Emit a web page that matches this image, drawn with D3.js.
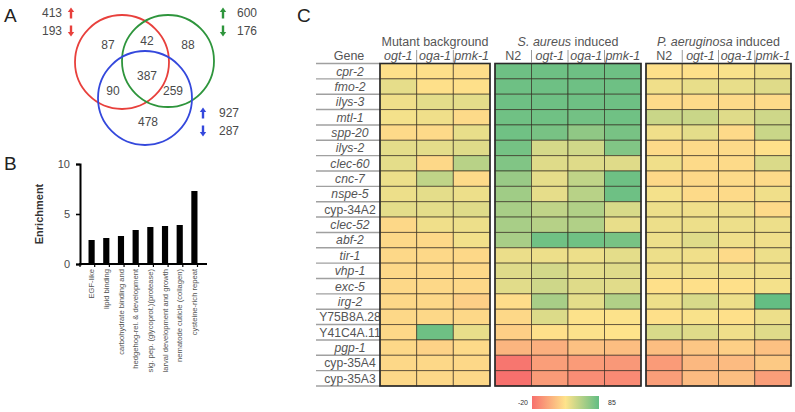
<!DOCTYPE html>
<html><head><meta charset="utf-8">
<script src="https://cdn.jsdelivr.net/npm/d3@7"></script>
<style>
body{margin:0;background:#fff;}
svg{display:block;font-family:"Liberation Sans",Arial,sans-serif;}
</style></head><body>
<svg id="c" width="795" height="412"></svg>
<script>
// ---------- DATA ----------
const vennSets = ["red", "green", "blue"];
const vennUp = [413, 600, 927];
const vennDown = [193, 176, 287];
const vennCounts = [87, 42, 88, 90, 387, 259, 478]; // R, RG, G, RB, RGB, GB, B

const enrichCategories = ["EGF-like", "lipid binding", "carbohydrate binding and",
  "hedgehog-rel. & development", "sig. pep. (glycoprot.)(protease)",
  "larval development and growth", "nematode cuticle (collagen)", "cysteine-rich repeat"];
const enrichValues = [2.4, 2.6, 2.8, 3.4, 3.7, 3.8, 3.9, 7.3];
const enrichTicks = [0, 5, 10];

const genes = ["cpr-2","fmo-2","ilys-3","mtl-1","spp-20","ilys-2","clec-60","cnc-7","nspe-5",
  "cyp-34A2","clec-52","abf-2","tir-1","vhp-1","exc-5","irg-2","Y75B8A.28","Y41C4A.11",
  "pgp-1","cyp-35A4","cyp-35A3"];
const nonItalicGenes = ["cyp-34A2","Y75B8A.28","Y41C4A.11","cyp-35A4","cyp-35A3"];
const mutantCols = ["ogt-1","oga-1","pmk-1"];
const strainCols = ["N2","ogt-1","oga-1","pmk-1"];
const mutantValues = [
  [19,19,18],[30,19,19],[26,31,31],[24,26,17],[17,17,29],[31,31,33],[31,16,49],
  [27,46,17],[27,31,27],[31,31,33],[16,26,27],[16,16,25],[16,16,16],[16,16,16],
  [16,16,16],[16,16,13],[16,16,16],[16,80,29],[16,14,17],[16,16,16],[16,16,16]];
const aureusValues = [
  [80,80,80,80],[80,80,80,80],[80,80,80,80],[79,79,78,79],[79,76,66,76],[77,37,39,72],
  [72,33,33,33],[62,30,46,80],[59,30,49,80],[56,46,52,36],[56,50,52,29],[56,79,79,76],
  [28,27,27,31],[33,38,31,33],[32,40,33,32],[18,56,31,52],[16,34,21,21],[13,19,21,20],
  [4,2,8,7],[-18,-4,-5,-6],[-20,-5,-10,-11]];
const aeruginosaValues = [
  [19,19,22,26],[26,29,29,33],[17,17,17,17],[42,42,33,40],[26,31,17,42],[17,17,17,19],
  [26,17,17,35],[16,16,17,17],[24,17,17,26],[27,26,26,17],[27,27,27,27],[27,33,26,26],
  [27,26,17,27],[26,26,26,26],[19,19,19,24],[27,36,27,84],[19,22,19,27],[36,33,26,33],
  [7,10,13,8],[-5,5,6,11],[-4,6,7,-4]];
const colorDomain = [-20, 20, 85];
const legendTicks = [-20, 85];

// ---------- SETUP ----------
const svg = d3.select("#c");
const txt = "#4a4a4a";

// ---------- PANEL A : Venn ----------
const vennLayout = {
  red:   {cx:122, cy:62, r:47, color:"#e8403c", up:[71,13], lab:[42,13]},
  green: {cx:168, cy:61, r:46, color:"#2e953c", up:[223,13], lab:[237,13]},
  blue:  {cx:145, cy:98, r:47, color:"#3448dc", up:[203,113], lab:[219,113]}
};
const regionPos = [[108,45],[147,41],[188,45],[113,91],[147,76],[173,91],[148,122]];

svg.append("text").attr("x",4).attr("y",22).attr("font-size",19).attr("fill","#222").text("A");
const gA = svg.append("g");
gA.selectAll("circle").data(vennSets).join("circle")
  .attr("cx",d=>vennLayout[d].cx).attr("cy",d=>vennLayout[d].cy).attr("r",d=>vennLayout[d].r)
  .attr("fill","none").attr("stroke",d=>vennLayout[d].color).attr("stroke-width",1.8);
gA.selectAll("text.reg").data(vennCounts).join("text").attr("class","reg")
  .attr("x",(d,i)=>regionPos[i][0]).attr("y",(d,i)=>regionPos[i][1]).attr("dy","0.35em")
  .attr("text-anchor","middle").attr("font-size",12).attr("fill",txt).text(d=>d);

function arrow(g, x, y, dir, color){
  const h = 11, hw = 3.2, hh = 4.5;
  const tip = y - dir*h/2, tail = y + dir*h/2;
  g.append("line").attr("x1",x).attr("x2",x).attr("y1",tail).attr("y2",tip + dir*hh*0.8)
    .attr("stroke",color).attr("stroke-width",2.4);
  g.append("path").attr("d",`M${x},${tip} L${x-hw},${tip+dir*hh} L${x+hw},${tip+dir*hh} Z`).attr("fill",color);
}
vennSets.forEach((s,i)=>{
  const L = vennLayout[s];
  [vennUp[i], vennDown[i]].forEach((v,k)=>{
    const yy = L.lab[1] + k*18;
    gA.append("text").attr("x",L.lab[0]).attr("y",yy).attr("dy","0.35em")
      .attr("font-size",12).attr("fill",txt).text(v);
    arrow(gA, L.up[0], yy, k===0?1:-1, L.color);
  });
});

// ---------- PANEL B : bars ----------
svg.append("text").attr("x",4).attr("y",170).attr("font-size",19).attr("fill","#222").text("B");
const x = d3.scaleBand().domain(enrichCategories).range([80,206]).padding(0.58);
const y = d3.scaleLinear().domain([0,10]).range([264,164]);
const gB = svg.append("g");
gB.selectAll("rect").data(enrichValues).join("rect")
  .attr("x",(d,i)=>x(enrichCategories[i])).attr("width",x.bandwidth())
  .attr("y",d=>y(d)).attr("height",d=>y(0)-y(d)).attr("fill","#000");
const yAxis = gB.append("g").attr("transform","translate(80,0)")
  .call(d3.axisLeft(y).tickValues(enrichTicks).tickSize(4).tickPadding(6));
yAxis.select(".domain").attr("stroke","#000").attr("stroke-width",2);
yAxis.selectAll(".tick line").attr("stroke","#000").attr("stroke-width",1.6);
yAxis.selectAll(".tick text").attr("font-size",11).attr("fill",txt).attr("font-family","Liberation Sans, Arial");
gB.append("line").attr("x1",79).attr("x2",207).attr("y1",y(0)).attr("y2",y(0)).attr("stroke","#000").attr("stroke-width",2);
gB.selectAll("line.xt").data(d3.range(enrichCategories.length+1)).join("line").attr("class","xt")
  .attr("x1",i=>80+i*x.step()).attr("x2",i=>80+i*x.step())
  .attr("y1",y(0)).attr("y2",y(0)+3).attr("stroke","#000").attr("stroke-width",1.2);
gB.selectAll("text.xl").data(enrichCategories).join("text").attr("class","xl")
  .attr("transform",d=>`translate(${x(d)+x.bandwidth()/2},${y(0)+5}) rotate(-90)`)
  .attr("text-anchor","end").attr("dy","0.35em").attr("font-size",7.6).attr("fill","#555").text(d=>d);
gB.append("text").attr("transform","translate(43,214) rotate(-90)")
  .attr("text-anchor","middle").attr("font-size",11).attr("font-weight","bold").attr("fill","#333").text("Enrichment");

// ---------- PANEL C : heatmap ----------
svg.append("text").attr("x",297).attr("y",22).attr("font-size",19).attr("fill","#222").text("C");
const color = d3.scaleLinear().domain(colorDomain).range(["#f7706d","#fee38b","#62bd83"]);
const rowY = d3.scaleBand().domain(genes).range([63.5,386]);
const gC = svg.append("g");

gC.selectAll("line.gl").data(d3.range(genes.length+1)).join("line").attr("class","gl")
  .attr("x1",316).attr("x2",380)
  .attr("y1",i=>63.5+i*rowY.step()).attr("y2",i=>63.5+i*rowY.step())
  .attr("stroke","#a0a0a0").attr("stroke-width",1.4);
gC.selectAll("text.gn").data(genes).join("text").attr("class","gn")
  .attr("x",350).attr("y",d=>rowY(d)+rowY.bandwidth()/2).attr("dy","0.36em")
  .attr("text-anchor","middle").attr("font-size",12.2).attr("fill","#555")
  .attr("font-style",d=>nonItalicGenes.includes(d)?"normal":"italic").text(d=>d);
gC.append("text").attr("x",349).attr("y",60).attr("text-anchor","middle")
  .attr("font-size",12.5).attr("fill","#555").text("Gene");

const panels = [
  {title:[["Mutant background","normal"]], cols:mutantCols, values:mutantValues, range:[380,490]},
  {title:[["S. aureus","italic"],[" induced","normal"]], cols:strainCols, values:aureusValues, range:[495,641]},
  {title:[["P. aeruginosa","italic"],[" induced","normal"]], cols:strainCols, values:aeruginosaValues, range:[646,791]}
];
panels.forEach(p=>{
  const cx = d3.scaleBand().domain(d3.range(p.cols.length)).range(p.range);
  const g = gC.append("g");
  const cells = [];
  p.values.forEach((row,r)=>row.forEach((v,c)=>cells.push({r,c,v})));
  g.selectAll("rect").data(cells).join("rect")
    .attr("x",d=>cx(d.c)).attr("y",d=>rowY(genes[d.r]))
    .attr("width",cx.bandwidth()).attr("height",rowY.bandwidth())
    .attr("fill",d=>color(d.v)).attr("stroke","rgba(45,35,25,0.6)").attr("stroke-width",1);
  g.append("rect").attr("x",p.range[0]).attr("y",63.5)
    .attr("width",p.range[1]-p.range[0]).attr("height",386-63.5)
    .attr("fill","none").attr("stroke","#2a2a2a").attr("stroke-width",1.6);
  g.selectAll("text.ch").data(p.cols).join("text").attr("class","ch")
    .attr("x",(d,i)=>cx(i)+cx.bandwidth()/2).attr("y",60).attr("text-anchor","middle")
    .attr("font-size",12.5).attr("fill","#555").attr("font-style",d=>d==="N2"?"normal":"italic").text(d=>d);
  g.selectAll("line.cs").data(d3.range(1,p.cols.length)).join("line").attr("class","cs")
    .attr("x1",i=>cx(i)).attr("x2",i=>cx(i)).attr("y1",50).attr("y2",63)
    .attr("stroke","#9a9a9a").attr("stroke-width",1);
  const t = g.append("text").attr("x",(p.range[0]+p.range[1])/2).attr("y",46)
    .attr("text-anchor","middle").attr("font-size",12.5).attr("fill","#555");
  p.title.forEach(([s,st])=>t.append("tspan").attr("font-style",st).text(s));
});

// legend (3-colour gradient, yellow at the middle as in the source)
const defs = svg.append("defs");
const grad = defs.append("linearGradient").attr("id","lg");
colorDomain.forEach((v,i)=>{
  grad.append("stop").attr("offset",i/(colorDomain.length-1)).attr("stop-color",color(v));
});
const lx = d3.scaleLinear().domain([legendTicks[0],legendTicks[1]]).range([532,599]);
svg.append("rect").attr("x",lx(-20)).attr("y",396).attr("width",lx(85)-lx(-20)).attr("height",13).attr("fill","url(#lg)");
svg.append("text").attr("x",lx(-20)-4).attr("y",405).attr("text-anchor","end").attr("font-size",7).attr("fill","#333").text(legendTicks[0]);
svg.append("text").attr("x",lx(85)+9).attr("y",405).attr("text-anchor","start").attr("font-size",7).attr("fill","#333").text(legendTicks[1]);
</script>
</body></html>
